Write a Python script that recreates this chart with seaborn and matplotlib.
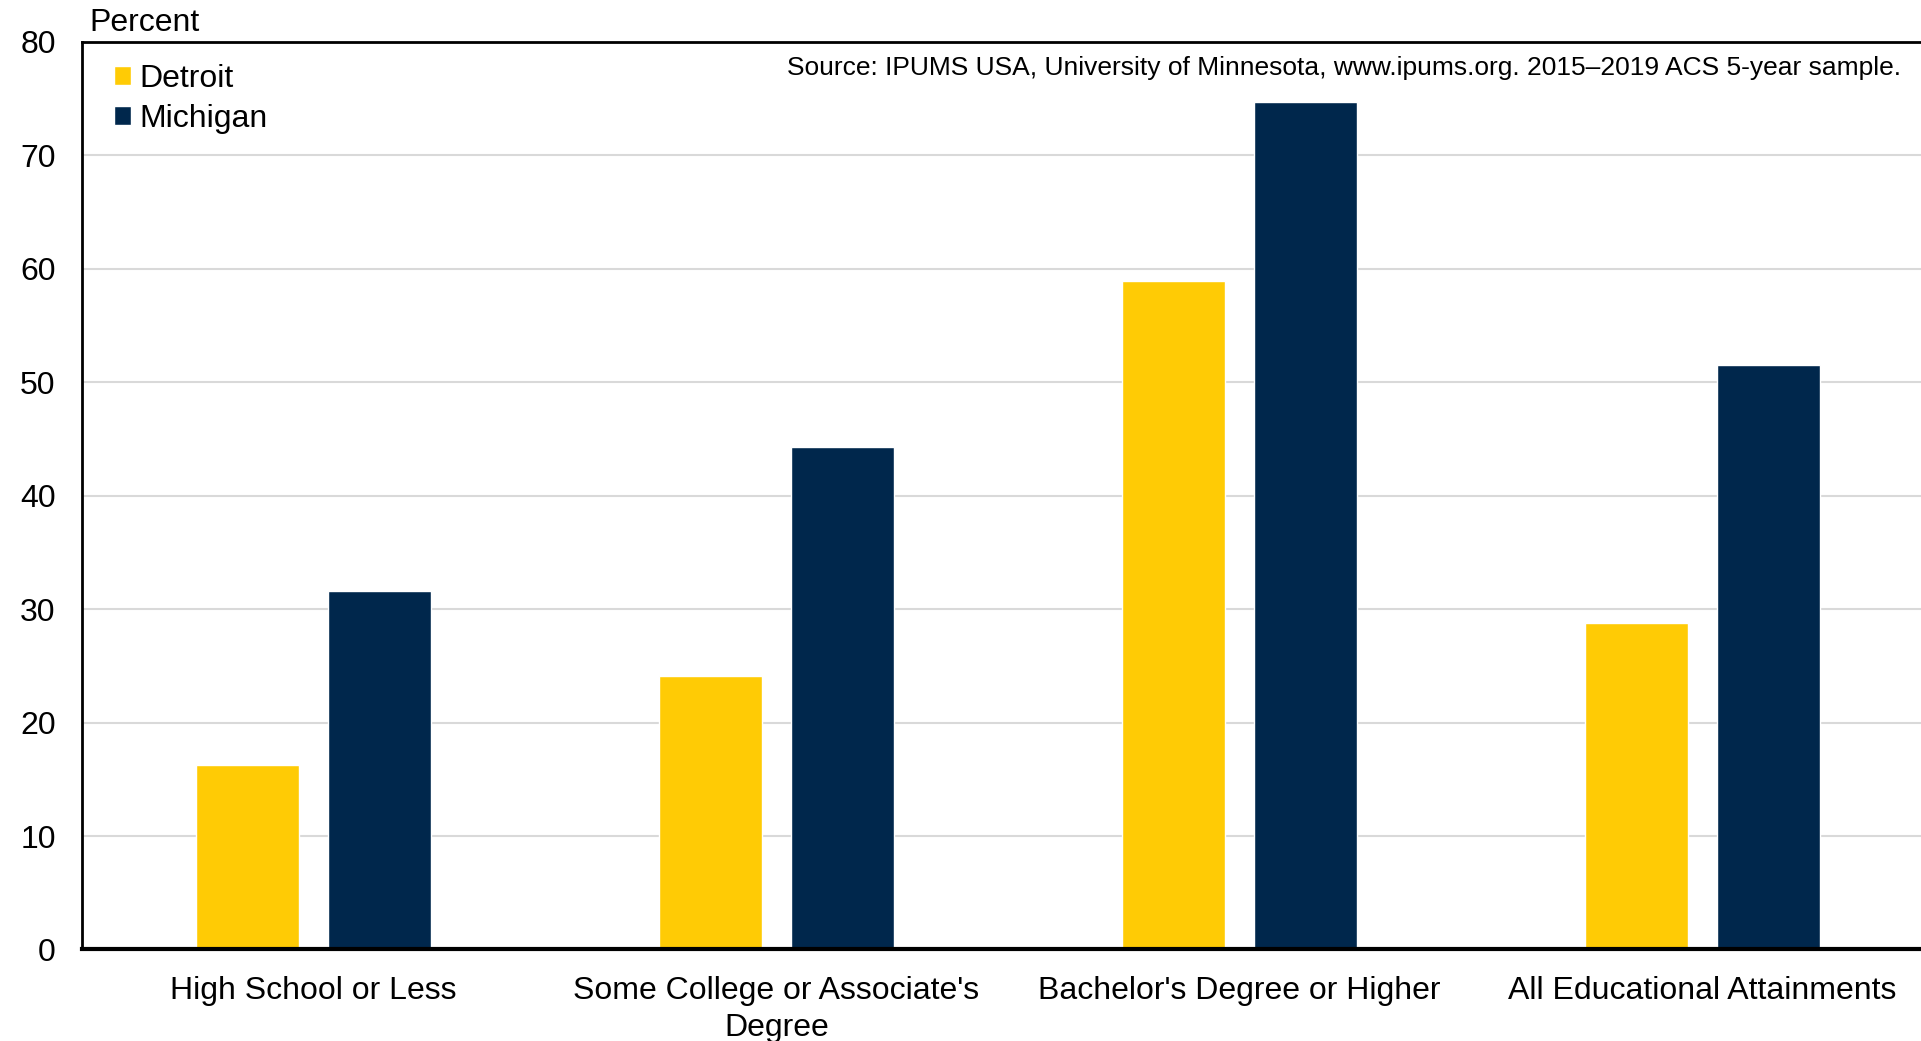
import pandas as pd
import seaborn as sns
import matplotlib.pyplot as plt

# Datos
categorias = ["High School or Less", "Some College or Associate's\nDegree",
              "Bachelor's Degree or Higher", "All Educational Attainments"]
series = ["Detroit", "Michigan"]
detroit = [16.3, 24.1, 58.9, 28.8]
michigan = [31.6, 44.3, 74.7, 51.5]
colores = ["#FFCB05", "#00274C"]
yticks = [0, 10, 20, 30, 40, 50, 60, 70, 80]
fuente = ("Source: IPUMS USA, University of Minnesota, www.ipums.org. "
          "2015\u20132019 ACS 5-year sample.")

datos = pd.DataFrame({
    "categoria": categorias * 2,
    "serie": [series[0]] * len(detroit) + [series[1]] * len(michigan),
    "valor": detroit + michigan,
})

sns.set_style("white")
plt.rcParams["font.family"] = ["Liberation Sans", "DejaVu Sans"]
plt.rcParams["text.color"] = "black"
plt.rcParams["xtick.color"] = "black"
plt.rcParams["ytick.color"] = "black"

fig = plt.figure(figsize=(19.21, 10.41), dpi=100)
ax = fig.add_axes([0.0427, 0.0879, 0.964, 0.872])

sns.barplot(data=datos, x="categoria", y="valor", hue="serie",
            palette=colores, saturation=1, width=0.57, gap=0.22,
            order=categorias, hue_order=series, ax=ax)

ax.set_ylim(0, 80)
ax.set_yticks(yticks)
ax.set_xlim(-0.5, len(categorias) - 0.5)
ax.set_xlabel("")
ax.set_ylabel("")
ax.yaxis.grid(True, color="#D9D9D9", linewidth=1.5)
ax.set_axisbelow(True)
ax.tick_params(axis="y", length=0, pad=19, labelsize=23)
ax.tick_params(axis="x", length=0, pad=19, labelsize=23)
for lbl in ax.get_xticklabels():
    lbl.set_linespacing(1.3)

for lado in ["left", "top"]:
    ax.spines[lado].set_color("black")
    ax.spines[lado].set_linewidth(2)
ax.spines["bottom"].set_color("black")
ax.spines["bottom"].set_linewidth(3)
ax.spines["right"].set_visible(False)

ax.legend(loc="upper left", bbox_to_anchor=(0.0593, 0.939),
          bbox_transform=fig.transFigure, frameon=False, fontsize=23,
          handlelength=0.55, handleheight=0.55, handletextpad=0.25,
          labelspacing=0.33, borderpad=0, borderaxespad=0)

fig.text(89 / 1921, 1 - 23 / 1041, "Percent", fontsize=23,
         ha="left", va="center")
fig.text(1901 / 1921, 1 - 67.5 / 1041, fuente, fontsize=19,
         ha="right", va="center")

fig.savefig("out.png", dpi=100)
